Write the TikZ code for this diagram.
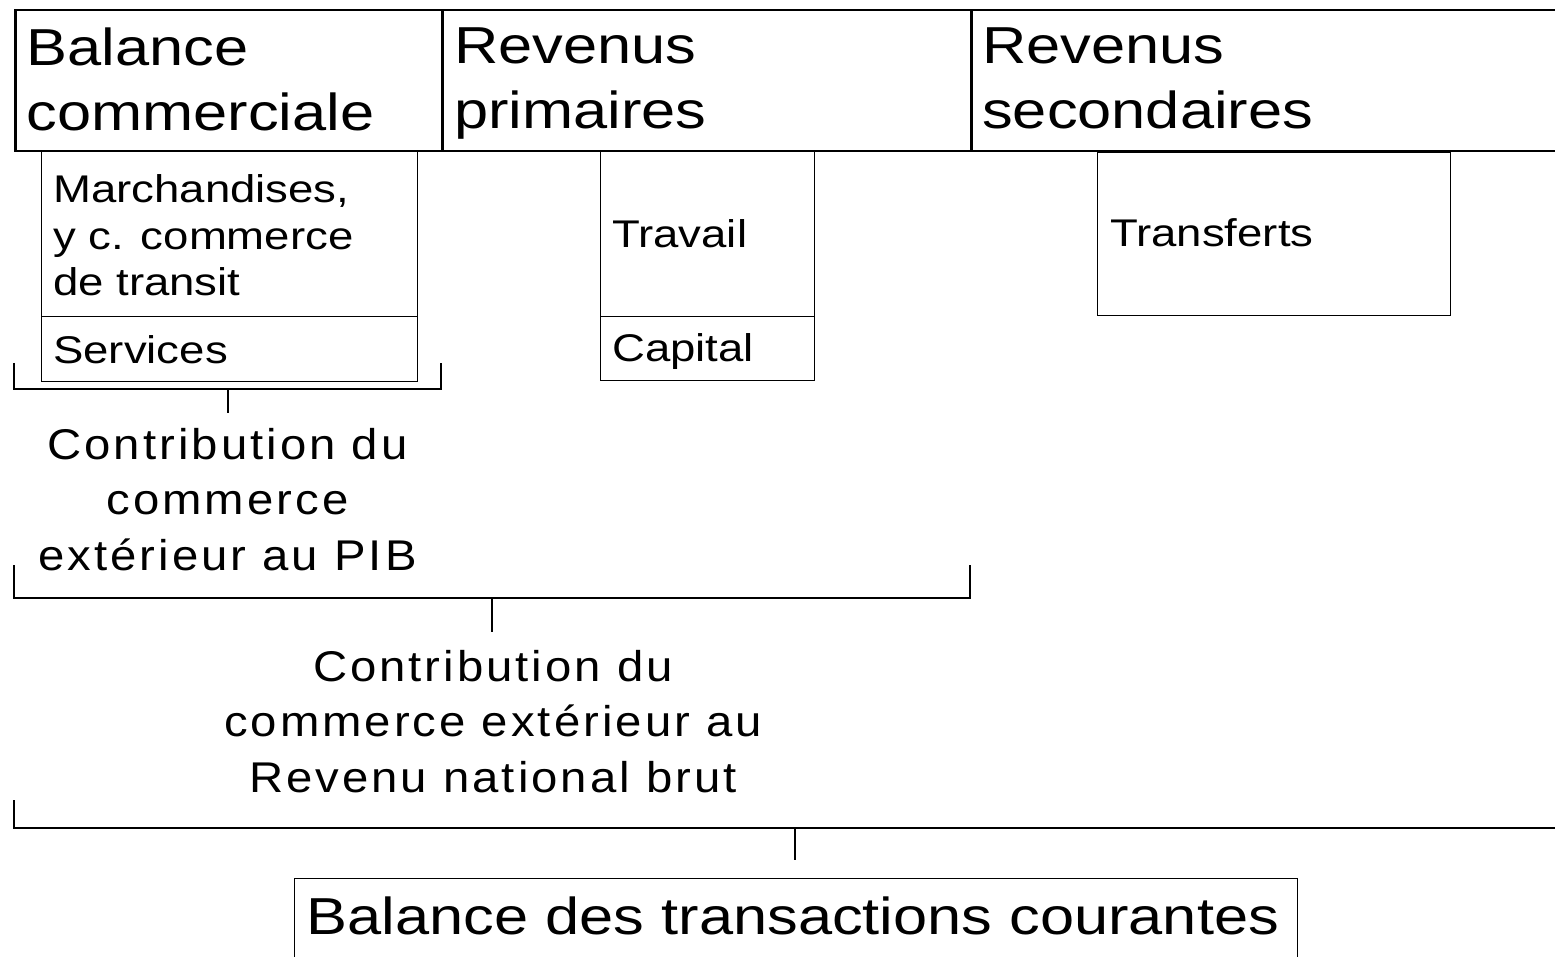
\documentclass[tikz,border=0pt]{standalone}
\usepackage{fontspec}
\setmainfont{Liberation Sans}[FakeStretch=1.18]
\newfontfamily\spacedfont{Liberation Sans}[FakeStretch=1.10,LetterSpace=7]
\begin{document}
\begin{tikzpicture}[x=1pt,y=-1pt,
  hdr/.style={draw, line width=2.5pt, inner sep=0pt, anchor=north west},
  sub/.style={draw, line width=1.3pt, inner sep=0pt, anchor=north west},
  hdrtxt/.style={inner sep=0pt, align=left, anchor=north west, font=\fontsize{52}{65}\selectfont},
  subtxt/.style={inner sep=0pt, align=left, anchor=north west, font=\fontsize{38.6}{46.5}\selectfont},
  ctxt/.style={inner sep=0pt, align=center, anchor=north, font=\spacedfont\fontsize{43}{55.5}\selectfont},
  fintxt/.style={inner sep=0pt, anchor=base, font=\fontsize{52}{60}\selectfont},
  brk/.style={line width=2.5pt}]
\useasboundingbox (0,0) rectangle (1555,957);
\clip (0,0) rectangle (1555,957);
\fill[white] (0,0) rectangle (1555,957);
% header boxes
\node[hdr, minimum width=427pt, minimum height=141pt] (bc) at (14,9) {};
\node[hdr, minimum width=529pt, minimum height=141pt] (rp) at (441,9) {};
\node[hdr, minimum width=640pt, minimum height=141pt] (rs) at (970,9) {};
\node[hdrtxt] (bct) at (26.5,27.8) {Balance\\commerciale};
\node[hdrtxt] (rpt) at (454,27.8) {Revenus\\primaires};
\node[hdrtxt] (rst) at (982,27.8) {Revenus\\secondaires};
% sub boxes
\node[sub, minimum width=376pt, minimum height=166pt] (mar) at (41,150) {};
\node[sub, minimum width=376pt, minimum height=65pt] (ser) at (41,316) {};
\node[sub, minimum width=214pt, minimum height=166pt] (tra) at (600,150) {};
\node[sub, minimum width=214pt, minimum height=64pt] (cap) at (600,316) {};
\node[sub, minimum width=353pt, minimum height=163pt] (trf) at (1097,152) {};
\node[subtxt] (mart) at (53,174.5) {Marchandises,\\y c. commerce\\de transit};
\node[subtxt, anchor=base west] (sert) at (53,363) {Services};
\node[subtxt, anchor=base west] (trat) at (612,248) {Travail};
\node[subtxt, anchor=base west] (capt) at (612,362) {Capital};
\node[subtxt, anchor=base west] (trft) at (1110,247) {Transferts};
% bracket 1
\coordinate (b1a) at (14,363);
\coordinate (b1m) at (228,389);
\coordinate (b1b) at (441,363);
\coordinate (s1) at (228,413);
\draw[brk] (b1a) |- (b1m) -| (b1b);
\draw[brk] (b1m) -- (s1);
\node[ctxt] (c1) at (227.5,428) {Contribution du\\commerce\\extérieur au PIB};
% bracket 2
\coordinate (b2a) at (14,565);
\coordinate (b2m) at (492,598);
\coordinate (b2b) at (970,565);
\coordinate (s2) at (492,632);
\draw[brk] (b2a) |- (b2m) -| (b2b);
\draw[brk] (b2m) -- (s2);
\node[ctxt] (c2) at (493,650) {Contribution du\\commerce extérieur au\\Revenu national brut};
% bracket 3
\coordinate (b3a) at (14,800);
\coordinate (b3m) at (795,828);
\coordinate (b3e) at (1560,828);
\coordinate (s3) at (795,860);
\draw[brk] (b3a) |- (b3m) -- (b3e);
\draw[brk] (b3m) -- (s3);
% final box
\node[sub, minimum width=1003pt, minimum height=100pt] (btc) at (294,878) {};
\node[fintxt] (btct) at (793,934) {Balance des transactions courantes};
\end{tikzpicture}
\end{document}
